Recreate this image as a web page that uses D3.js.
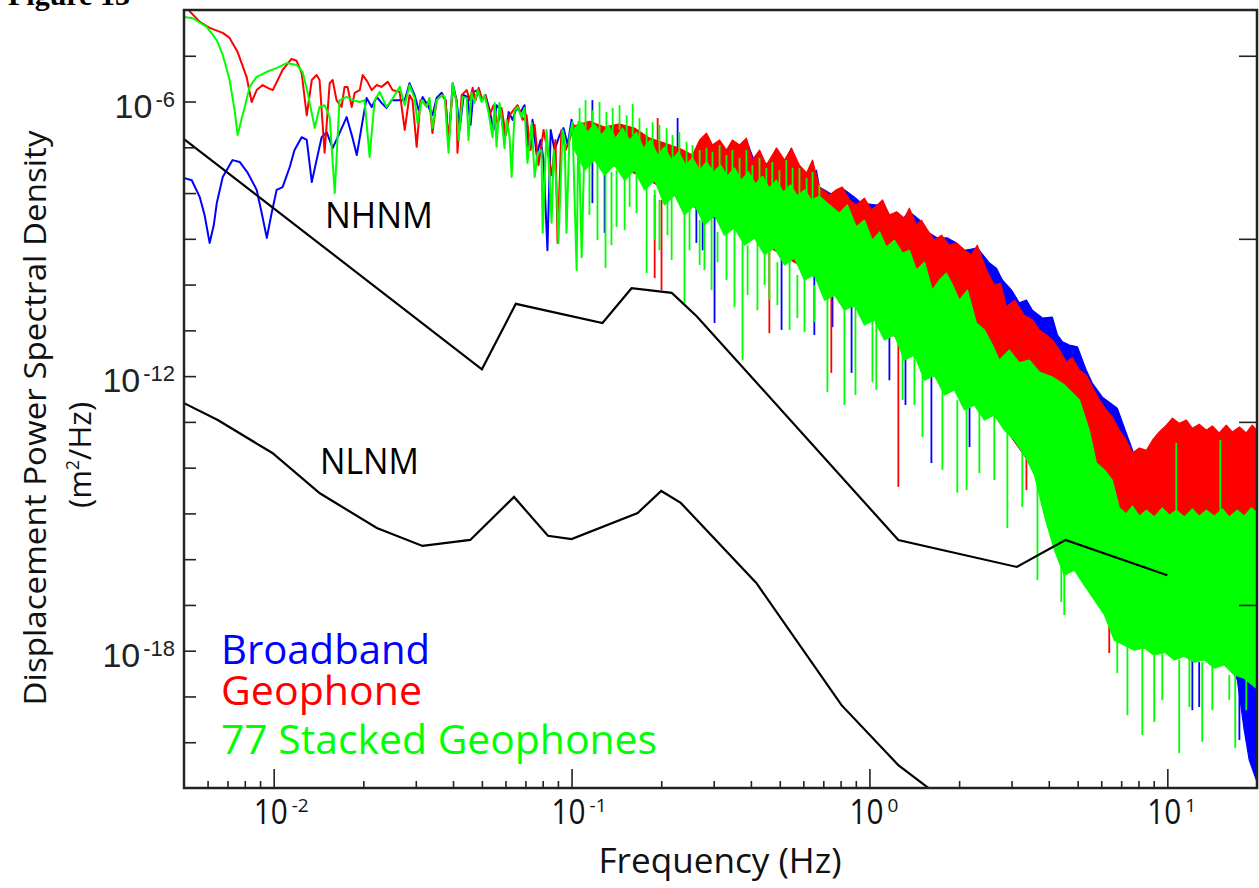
<!DOCTYPE html>
<html>
<head>
<meta charset="utf-8">
<script src="https://cdn.jsdelivr.net/npm/d3@7"></script>
<style>
  body { margin: 0; background: #fff; }
  svg { display: block; }
</style>
</head>
<body>
<div id="chart"></div>
<script>
// ===========================
// Displacement PSD, log-log
// all spectrum points are [log10 Hz, log10 m^2/Hz]
// ===========================

// low frequency part, single traces
const broadbandLine = [[-2.302,-7.67],[-2.275,-7.72],[-2.248,-8.09],[-2.232,-8.48],[-2.215,-9.09],[-2.201,-8.70],[-2.191,-8.22],[-2.171,-7.65],[-2.138,-7.28],[-2.114,-7.32],[-2.087,-7.56],[-2.057,-7.93],[-2.040,-8.44],[-2.023,-8.98],[-2.007,-8.44],[-1.990,-7.93],[-1.970,-7.87],[-1.946,-7.43],[-1.930,-7.06],[-1.906,-6.78],[-1.889,-6.84],[-1.872,-7.76],[-1.856,-7.28],[-1.839,-6.78],[-1.822,-6.67],[-1.802,-7.02],[-1.779,-6.69],[-1.755,-6.34],[-1.735,-6.80],[-1.721,-7.17],[-1.705,-6.56],[-1.688,-5.92],[-1.671,-6.12],[-1.654,-5.90],[-1.638,-6.03],[-1.621,-6.14],[-1.604,-5.97],
  [-1.577,-5.97],[-1.560,-5.97],[-1.544,-5.60],[-1.527,-5.86],[-1.513,-6.19],[-1.500,-5.90],[-1.483,-6.08],[-1.467,-6.30],[-1.453,-5.92],[-1.436,-5.81],[-1.423,-5.97],[-1.413,-6.95],[-1.399,-5.60],[-1.386,-5.97],[-1.376,-6.62],[-1.362,-5.86],[-1.349,-5.90],[-1.339,-6.51],[-1.329,-5.79],[-1.315,-5.75],[-1.302,-5.97],[-1.289,-5.86],[-1.275,-6.19],[-1.262,-6.62],[-1.252,-6.08],[-1.238,-6.19],[-1.225,-6.84],[-1.211,-6.23],[-1.198,-6.40],[-1.185,-6.14],[-1.171,-6.23],[-1.158,-6.08],[-1.144,-7.06],[-1.131,-6.40],[-1.117,-7.17],[-1.104,-6.84],[-1.094,-7.28],[-1.081,-9.25],[-1.070,-6.62],[-1.057,-7.06],[-1.040,-6.73],[-1.027,-6.58],[-1.013,-6.95],[-1.000,-6.40],[-0.983,-6.84],[-0.970,-6.51],[-0.956,-6.73]];

const geophoneLine = [[-2.302,-3.89],[-2.248,-4.26],[-2.215,-4.39],[-2.171,-4.50],[-2.148,-4.61],[-2.121,-4.92],[-2.091,-5.46],[-2.074,-6.01],[-2.057,-5.75],[-2.037,-5.64],[-2.020,-5.70],[-2.003,-5.75],[-1.970,-5.31],[-1.940,-5.07],[-1.923,-5.11],[-1.906,-5.38],[-1.889,-6.30],[-1.872,-5.53],[-1.856,-5.42],[-1.846,-5.53],[-1.829,-7.12],[-1.812,-5.60],[-1.802,-5.53],[-1.789,-5.97],[-1.772,-6.12],[-1.762,-5.68],[-1.752,-5.68],[-1.738,-6.12],[-1.728,-5.81],[-1.711,-5.75],[-1.701,-5.42],[-1.685,-5.57],[-1.671,-5.75],[-1.654,-5.64],[-1.638,-5.68],[-1.617,-5.57],[-1.601,-5.75],
  [-1.577,-5.79],[-1.560,-6.62],[-1.544,-5.86],[-1.534,-5.97],[-1.520,-6.99],[-1.507,-5.97],[-1.487,-6.08],[-1.477,-5.97],[-1.467,-6.69],[-1.453,-5.97],[-1.436,-5.86],[-1.423,-5.97],[-1.413,-6.84],[-1.399,-5.75],[-1.386,-5.97],[-1.383,-7.12],[-1.369,-5.86],[-1.352,-5.75],[-1.342,-5.97],[-1.332,-5.70],[-1.322,-5.97],[-1.312,-5.70],[-1.299,-5.97],[-1.289,-5.86],[-1.275,-6.30],[-1.262,-6.08],[-1.248,-6.51],[-1.235,-6.14],[-1.221,-6.73],[-1.208,-6.30],[-1.195,-6.19],[-1.181,-6.08],[-1.164,-6.40],[-1.151,-6.30],[-1.138,-7.06],[-1.124,-6.51],[-1.111,-7.39],[-1.094,-6.62],[-1.081,-7.06],[-1.067,-7.61],[-1.054,-6.84],[-1.047,-9.09],[-1.034,-6.62],[-1.020,-7.06],[-1.007,-6.84],[-0.993,-6.51],[-0.980,-7.06],[-0.966,-6.62],[-0.956,-6.73]];

const stackedLine = [[-2.302,-4.15],[-2.272,-4.18],[-2.225,-4.37],[-2.191,-4.66],[-2.171,-4.98],[-2.148,-5.53],[-2.131,-6.19],[-2.121,-6.73],[-2.107,-6.36],[-2.097,-6.12],[-2.081,-5.68],[-2.057,-5.46],[-2.023,-5.35],[-1.990,-5.27],[-1.956,-5.16],[-1.923,-5.20],[-1.903,-5.35],[-1.886,-5.81],[-1.862,-6.58],[-1.846,-6.12],[-1.829,-6.08],[-1.812,-6.34],[-1.795,-8.00],[-1.779,-5.97],[-1.755,-5.90],[-1.735,-5.97],[-1.711,-6.01],[-1.695,-5.97],[-1.678,-7.21],[-1.661,-5.97],[-1.644,-5.79],[-1.621,-6.12],[-1.604,-5.97],
  [-1.577,-5.68],[-1.560,-6.08],[-1.544,-5.64],[-1.527,-5.92],[-1.517,-6.47],[-1.503,-5.97],[-1.487,-6.12],[-1.477,-5.92],[-1.467,-6.58],[-1.453,-5.97],[-1.436,-5.86],[-1.426,-5.90],[-1.413,-7.12],[-1.399,-5.60],[-1.386,-6.03],[-1.379,-6.84],[-1.366,-5.90],[-1.352,-5.92],[-1.346,-6.84],[-1.336,-5.81],[-1.326,-6.03],[-1.315,-5.75],[-1.302,-6.01],[-1.292,-5.86],[-1.279,-6.23],[-1.265,-6.78],[-1.258,-6.03],[-1.252,-6.99],[-1.242,-6.03],[-1.235,-6.34],[-1.225,-7.02],[-1.218,-6.40],[-1.208,-6.78],[-1.201,-7.65],[-1.191,-6.19],[-1.181,-6.12],[-1.168,-6.34],[-1.158,-6.14],[-1.148,-7.34],[-1.134,-6.47],[-1.124,-7.65],[-1.114,-7.12],[-1.101,-7.06],[-1.097,-8.87],[-1.084,-6.62],[-1.077,-7.21],[-1.067,-8.65],[-1.060,-7.06],[-1.050,-7.87],[-1.044,-9.09],[-1.030,-6.62],[-1.023,-6.84],[-1.017,-8.87],[-1.007,-6.78],[-0.997,-6.45],[-0.983,-9.68],[-0.977,-6.45],[-0.966,-9.40],[-0.956,-6.78]];

// dense part above ~0.1 Hz: upper and lower edge of the solid core of each trace
const broadbandUpper = [[-0.990,-6.56],[-0.940,-6.45],[-0.889,-6.58],[-0.839,-6.51],[-0.789,-6.60],[-0.738,-6.82],[-0.688,-6.93],[-0.638,-7.04],[-0.594,-7.19],[-0.570,-6.95],[-0.547,-6.84],[-0.527,-7.02],[-0.503,-6.91],[-0.480,-7.10],[-0.460,-6.91],[-0.436,-7.02],[-0.413,-6.84],[-0.379,-7.43],[-0.336,-7.34],[-0.312,-7.02],[-0.285,-7.32],[-0.262,-7.02],[-0.235,-7.50],[-0.211,-7.61],[-0.178,-7.50],[-0.168,-7.87],[-0.124,-8.04],[-0.084,-7.93],[-0.050,-8.09],[-0.027,-8.22],[0.017,-8.26],[0.044,-8.26],[0.067,-8.48],[0.101,-8.63],[0.134,-8.41],[0.168,-8.59],[0.195,-8.85],[0.228,-8.98],[0.262,-8.98],[0.292,-9.09],[0.319,-9.25],[0.362,-9.20],[0.403,-9.53],[0.426,-9.64],[0.446,-9.90],[0.477,-10.12],[0.503,-10.40],[0.527,-10.34],[0.547,-10.56],[0.581,-10.73],[0.614,-10.71],[0.631,-11.10],[0.648,-11.25],[0.671,-11.32],[0.698,-11.36],[0.728,-11.87],[0.748,-12.15],[0.782,-12.46],[0.805,-12.57],[0.832,-12.70],[0.862,-13.24],[0.889,-13.72],[0.923,-13.94],[1.107,-13.88],[1.299,-13.94]];
const broadbandLower = [[-0.990,-6.95],[-0.738,-7.72],[-0.570,-8.37],[-0.403,-8.92],[-0.235,-9.57],[-0.067,-10.34],[0.101,-11.21],[0.268,-12.09],[0.436,-12.96],[0.604,-14.49],[0.772,-16.02],[0.940,-17.77],[1.107,-17.99],[1.208,-18.31],[1.235,-18.64],[1.258,-19.73],[1.275,-20.39],[1.299,-20.83]];

const geophoneUpper = [[-0.990,-6.53],[-0.940,-6.43],[-0.889,-6.56],[-0.839,-6.49],[-0.789,-6.58],[-0.738,-6.80],[-0.688,-6.91],[-0.638,-7.02],[-0.594,-7.17],[-0.570,-6.84],[-0.547,-6.69],[-0.527,-6.95],[-0.503,-6.84],[-0.480,-7.06],[-0.460,-6.84],[-0.436,-6.95],[-0.413,-6.80],[-0.393,-7.28],[-0.369,-7.06],[-0.346,-7.39],[-0.336,-7.28],[-0.312,-7.02],[-0.285,-7.28],[-0.262,-7.02],[-0.235,-7.39],[-0.211,-7.56],[-0.191,-7.28],[-0.168,-7.87],[-0.134,-8.04],[-0.111,-7.93],[-0.091,-7.87],[-0.067,-8.15],[-0.044,-8.26],[-0.017,-8.11],[0.007,-8.37],[0.027,-8.26],[0.044,-8.15],[0.067,-8.48],[0.091,-8.41],[0.117,-8.55],[0.134,-8.33],[0.158,-8.70],[0.174,-8.59],[0.195,-8.81],[0.218,-9.03],[0.242,-8.92],[0.268,-9.14],[0.292,-9.09],[0.319,-9.25],[0.342,-9.35],[0.362,-9.14],[0.393,-9.68],[0.419,-10.01],[0.440,-9.97],[0.460,-10.49],[0.487,-10.34],[0.520,-10.67],[0.547,-10.77],[0.570,-10.99],[0.594,-11.10],[0.614,-11.21],[0.638,-11.43],[0.661,-11.69],[0.681,-11.60],[0.705,-11.87],[0.728,-11.98],[0.748,-12.24],[0.772,-12.52],[0.795,-12.74],[0.815,-12.89],[0.839,-13.18],[0.862,-13.40],[0.883,-13.68],[0.906,-13.57],[0.930,-13.62],[0.950,-13.40],[0.973,-13.22],[0.997,-13.07],[1.017,-12.92],[1.040,-13.03],[1.064,-12.96],[1.084,-13.14],[1.107,-13.05],[1.131,-13.18],[1.151,-13.09],[1.174,-13.24],[1.198,-13.07],[1.218,-13.22],[1.242,-13.11],[1.265,-13.24],[1.285,-13.07],[1.299,-13.18]];
const geophoneLower = [[-0.990,-6.95],[-0.738,-7.72],[-0.570,-8.37],[-0.403,-8.92],[-0.235,-9.57],[-0.067,-10.34],[0.101,-11.21],[0.268,-12.09],[0.436,-12.96],[0.604,-14.49],[0.772,-15.15],[1.299,-15.15]];

const stackedUpper = [[-0.990,-6.58],[-0.966,-6.45],[-0.946,-6.67],[-0.923,-6.49],[-0.899,-6.73],[-0.876,-6.53],[-0.852,-6.80],[-0.829,-6.58],[-0.805,-6.84],[-0.782,-6.67],[-0.758,-7.02],[-0.735,-6.84],[-0.711,-7.17],[-0.688,-6.99],[-0.664,-7.28],[-0.641,-7.10],[-0.617,-7.39],[-0.594,-7.23],[-0.570,-7.50],[-0.547,-7.32],[-0.523,-7.54],[-0.500,-7.39],[-0.477,-7.63],[-0.453,-7.45],[-0.430,-7.72],[-0.406,-7.54],[-0.383,-7.80],[-0.359,-7.63],[-0.336,-7.89],[-0.312,-7.72],[-0.289,-7.98],[-0.265,-7.82],[-0.242,-8.06],[-0.218,-7.93],[-0.195,-8.15],[-0.168,-8.07],[-0.134,-8.26],[-0.101,-8.44],[-0.074,-8.26],[-0.044,-8.74],[-0.017,-8.59],[0.010,-9.03],[0.034,-8.85],[0.057,-9.18],[0.084,-9.03],[0.111,-9.31],[0.134,-9.25],[0.158,-9.68],[0.185,-9.51],[0.211,-10.12],[0.235,-9.90],[0.258,-9.75],[0.279,-10.01],[0.302,-10.34],[0.329,-10.12],[0.359,-10.84],[0.386,-10.99],[0.413,-11.32],[0.436,-11.65],[0.470,-11.43],[0.503,-11.71],[0.537,-11.65],[0.570,-11.91],[0.614,-12.02],[0.654,-12.19],[0.705,-12.52],[0.738,-13.18],[0.762,-13.90],[0.789,-14.05],[0.815,-14.27],[0.839,-14.88],[0.862,-15.01],[0.883,-14.84],[0.906,-15.06],[0.930,-14.93],[0.956,-15.08],[0.983,-14.88],[1.007,-15.04],[1.030,-14.93],[1.057,-15.08],[1.084,-14.90],[1.107,-15.06],[1.131,-14.93],[1.158,-15.06],[1.185,-14.90],[1.208,-15.08],[1.235,-14.93],[1.258,-15.06],[1.282,-14.88],[1.299,-14.97]];
const stackedLower = [[-0.990,-7.06],[-0.956,-7.50],[-0.923,-7.28],[-0.889,-7.61],[-0.856,-7.39],[-0.822,-7.72],[-0.789,-7.50],[-0.755,-7.93],[-0.721,-7.72],[-0.688,-8.26],[-0.654,-8.04],[-0.621,-8.48],[-0.587,-8.26],[-0.554,-8.70],[-0.520,-8.48],[-0.487,-8.92],[-0.453,-8.76],[-0.419,-9.14],[-0.386,-8.98],[-0.352,-9.35],[-0.319,-9.20],[-0.285,-9.57],[-0.252,-9.42],[-0.218,-9.90],[-0.185,-9.79],[-0.151,-10.34],[-0.117,-10.23],[-0.084,-10.56],[-0.050,-10.45],[-0.017,-10.88],[0.017,-10.77],[0.050,-11.21],[0.084,-11.10],[0.117,-11.65],[0.151,-11.54],[0.185,-12.09],[0.218,-11.98],[0.252,-12.41],[0.285,-12.30],[0.319,-12.74],[0.352,-12.63],[0.386,-12.96],[0.419,-12.85],[0.453,-13.18],[0.487,-13.40],[0.520,-13.72],[0.554,-14.16],[0.587,-15.04],[0.621,-15.80],[0.654,-16.35],[0.688,-16.24],[0.721,-16.57],[0.755,-16.89],[0.789,-17.22],[0.822,-17.77],[0.856,-17.88],[0.889,-17.99],[0.923,-17.94],[0.956,-18.10],[0.990,-18.03],[1.023,-18.20],[1.057,-18.12],[1.091,-18.25],[1.124,-18.20],[1.158,-18.38],[1.191,-18.31],[1.225,-18.53],[1.258,-18.60],[1.299,-18.82]];

// thin spikes sticking out of the core: [log10 Hz, log10 top, log10 bottom]
const broadbandSpikes = [[-0.930,-5.97,-6.45],[-0.644,-6.36,-7.02],[-0.930,-7.06,-8.22],[-0.889,-7.28,-8.87],[-0.581,-8.26,-9.09],[-0.560,-8.37,-9.25],[-0.520,-8.48,-10.84],[-0.295,-9.35,-10.99],[-0.185,-9.79,-11.10],[-0.124,-10.12,-10.93],[-0.060,-10.34,-11.93],[0.067,-11.10,-12.09],[0.121,-11.43,-12.63],[0.208,-11.87,-13.90],[0.336,-12.63,-13.55],[1.084,-18.16,-19.30],[1.107,-18.25,-19.23],[1.242,-18.55,-19.95]];
const geophoneSpikes = [[-0.711,-6.36,-6.84],[-0.721,-8.04,-9.86],[-0.698,-8.15,-10.12],[-0.336,-9.25,-11.06],[-0.128,-10.12,-11.93],[0.097,-11.21,-14.42],[0.527,-13.62,-14.49],[0.805,-17.22,-18.05]];
const stackedSpikes = [
  // upward
  [-0.973,-6.14,-6.62],[-0.953,-5.97,-6.62],[-0.930,-6.19,-6.58],[-0.906,-6.01,-6.73],[-0.883,-6.23,-6.62],[-0.862,-6.14,-6.80],[-0.839,-6.08,-6.62],[-0.815,-6.30,-6.84],[-0.795,-6.05,-6.73],[-0.772,-6.36,-6.95],[-0.748,-6.58,-7.02],[-0.728,-6.45,-6.95],[-0.705,-6.51,-7.17],[-0.681,-6.58,-7.10],[-0.661,-6.73,-7.32],[-0.638,-6.67,-7.23],[-0.614,-6.88,-7.45],[-0.594,-6.95,-7.32],[-0.570,-7.06,-7.54],[-0.547,-7.02,-7.45],[-0.527,-7.10,-7.61],[-0.503,-6.95,-7.50],[-0.480,-7.17,-7.67],[-0.460,-7.06,-7.54],[-0.436,-7.23,-7.76],[-0.413,-7.06,-7.67],[-0.393,-7.39,-7.85],[-0.369,-7.23,-7.80],[-0.346,-7.45,-7.93],[-0.326,-7.32,-7.85],[-0.302,-7.50,-8.02],[-0.279,-7.28,-7.93],[-0.258,-7.45,-8.11],[-0.235,-7.45,-8.07],[-0.211,-7.67,-8.20],[-0.191,-7.54,-8.15],[-0.168,-7.82,-8.15],[1.030,-13.46,-14.99],[1.178,-13.40,-15.15],
  // downward
  [-0.940,-7.39,-8.48],[-0.913,-7.28,-9.03],[-0.886,-7.39,-9.64],[-0.866,-7.54,-9.14],[-0.849,-7.50,-8.74],[-0.822,-7.61,-8.81],[-0.805,-7.50,-8.30],[-0.782,-7.61,-8.44],[-0.748,-7.82,-9.75],[-0.721,-7.93,-9.03],[-0.705,-8.15,-9.25],[-0.678,-8.15,-8.92],[-0.664,-8.04,-9.46],[-0.621,-8.37,-10.40],[-0.604,-8.37,-9.25],[-0.570,-8.59,-9.57],[-0.554,-8.70,-9.68],[-0.530,-8.48,-10.12],[-0.510,-8.85,-9.51],[-0.480,-8.81,-9.90],[-0.453,-8.76,-10.49],[-0.426,-9.03,-11.65],[-0.409,-9.14,-10.23],[-0.376,-9.03,-10.56],[-0.352,-9.35,-10.01],[-0.336,-9.25,-10.34],[-0.309,-9.51,-10.45],[-0.268,-9.46,-10.99],[-0.242,-9.79,-10.73],[-0.218,-9.79,-11.04],[-0.185,-10.01,-10.82],[-0.141,-10.23,-12.35],[-0.084,-10.45,-12.63],[-0.047,-10.45,-12.41],[0.010,-10.77,-12.13],[0.023,-10.77,-12.30],[0.111,-11.43,-12.52],[0.151,-11.54,-12.63],[0.178,-11.98,-13.33],[0.245,-12.30,-14.05],[0.295,-12.52,-14.55],[0.326,-12.63,-14.49],[0.369,-12.74,-14.12],[0.419,-12.85,-14.27],[0.463,-13.18,-15.32],[0.513,-13.62,-14.86],[0.564,-14.05,-16.46],[0.644,-16.02,-16.94],[0.654,-16.24,-17.22],[0.832,-17.77,-18.49],[0.866,-17.88,-19.41],[0.916,-17.94,-19.84],[0.956,-18.10,-19.56],[0.983,-18.03,-19.08],[1.040,-18.20,-20.24],[1.074,-18.12,-19.23],[1.117,-18.25,-19.99],[1.151,-18.20,-19.30],[1.208,-18.53,-19.08],[1.228,-18.55,-20.13],[1.265,-18.60,-19.30]];

// Peterson noise models: breakpoint frequency (Hz), log10 PSD
const nhnmFreq = [0.005, 0.05, 0.065, 0.127, 0.159, 0.217, 0.263, 1.25, 3.125, 4.55, 10];
const nhnmPsd  = [-6.82, -11.85, -10.42, -10.84, -10.08, -10.18, -10.69, -15.58, -16.17, -15.58, -16.35];
const nlnmFreq = [0.005, 0.00649, 0.0099, 0.01429, 0.0222, 0.0316, 0.0457, 0.0641, 0.0833, 0.1, 0.1667, 0.2, 0.2326, 0.417, 0.806, 1.25, 2.5];
const nlnmPsd  = [-12.59, -12.96, -13.68, -14.56, -15.32, -15.71, -15.58, -14.64, -15.49, -15.56, -14.99, -14.51, -14.77, -16.52, -19.19, -20.50, -21.99];

const xMajor = [0.01, 0.1, 1, 10];
const xMajorExp = ['-2', '-1', '0', '1'];
const yLabelled = [1e-6, 1e-12, 1e-18];
const yLabelExp = ['-6', '-12', '-18'];
const yDecades = [1e-5,1e-6,1e-7,1e-8,1e-9,1e-10,1e-11,1e-12,1e-13,1e-14,1e-15,1e-16,1e-17,1e-18,1e-19,1e-20];
const yRightTicks = [1e-5, 1e-9, 1e-13, 1e-17];

const series = [
    { name: 'Broadband', color: '#0000ff', line: broadbandLine, upper: broadbandUpper, lower: broadbandLower, spikes: broadbandSpikes },
    { name: 'Geophone', color: '#ff0000', line: geophoneLine, upper: geophoneUpper, lower: geophoneLower, spikes: geophoneSpikes },
    { name: '77 Stacked Geophones', color: '#00ff00', line: stackedLine, upper: stackedUpper, lower: stackedLower, spikes: stackedSpikes }
];

const W = 1259, H = 888;
const plot = { left: 184, right: 1257, top: 10, bottom: 788 };
const sans = '"Open Sans", "Noto Sans", sans-serif';

const x = d3.scaleLog().domain([0.005, 20]).range([plot.left, plot.right]);
const y = d3.scaleLog().domain([1e-21, 1e-4]).range([plot.bottom, plot.top]);
const px = d => x(Math.pow(10, d[0]));
const py = d => y(Math.pow(10, d[1]));

const svg = d3.select('#chart').append('svg')
    .attr('width', W)
    .attr('height', H);

svg.append('defs').append('clipPath')
    .attr('id', 'plot-clip')
    .append('rect')
    .attr('x', plot.left)
    .attr('y', plot.top)
    .attr('width', plot.right - plot.left)
    .attr('height', plot.bottom - plot.top);

const g = svg.append('g').attr('clip-path', 'url(#plot-clip)');
const line = d3.line().x(px).y(py);

series.forEach(s => {
    const sg = g.append('g').attr('class', 'series');
    // dense core: upper edge left->right, lower edge back
    sg.append('path')
        .attr('d', line(s.upper.concat(s.lower.slice().reverse())) + 'Z')
        .attr('fill', s.color)
        .attr('stroke', s.color)
        .attr('stroke-width', 1.2)
        .attr('stroke-linejoin', 'round');

    sg.selectAll('.spike')
        .data(s.spikes)
        .join('line')
        .attr('class', 'spike')
        .attr('x1', d => x(Math.pow(10, d[0])))
        .attr('x2', d => x(Math.pow(10, d[0])))
        .attr('y1', d => y(Math.pow(10, d[1])))
        .attr('y2', d => y(Math.pow(10, d[2])))
        .attr('stroke', s.color)
        .attr('stroke-width', 1.8);

    sg.append('path')
        .attr('d', line(s.line))
        .attr('fill', 'none')
        .attr('stroke', s.color)
        .attr('stroke-width', 2)
        .attr('stroke-linejoin', 'round');
});

// noise models
const modelLine = d3.line()
    .x(d => x(d[0]))
    .y(d => y(Math.pow(10, d[1])));

[[nhnmFreq, nhnmPsd], [nlnmFreq, nlnmPsd]].forEach(([f, p]) => {
    g.append('path')
        .attr('d', modelLine(f.map((v, i) => [v, p[i]])))
        .attr('fill', 'none')
        .attr('stroke', '#000')
        .attr('stroke-width', 2.2);
});

svg.append('text').attr('x', 325).attr('y', 228)
    .style('font-family', sans).style('font-size', '36px').attr('fill', '#000')
    .attr('textLength', 108).attr('lengthAdjust', 'spacingAndGlyphs')
    .text('NHNM');
svg.append('text').attr('x', 320).attr('y', 474)
    .style('font-family', sans).style('font-size', '36px').attr('fill', '#000')
    .attr('textLength', 99).attr('lengthAdjust', 'spacingAndGlyphs')
    .text('NLNM');

// axes: ticks point inward, labels drawn separately
const axisColor = '#222';
const styleAxis = sel => {
    sel.select('.domain').remove();
    sel.selectAll('.tick line').attr('stroke', axisColor).attr('stroke-width', 1.6);
};

const minorTicks = [];
[0.001, 0.01, 0.1, 1, 10].forEach(dec => {
    for (let k = 2; k <= 9; k++) {
        const v = k * dec;
        if (v > 0.005 && v < 20) minorTicks.push(v);
    }
});

svg.append('g')
    .attr('transform', `translate(0,${plot.bottom})`)
    .call(d3.axisBottom(x).tickValues(minorTicks).tickSize(-7).tickFormat(''))
    .call(styleAxis);
svg.append('g')
    .attr('transform', `translate(0,${plot.bottom})`)
    .call(d3.axisBottom(x).tickValues(xMajor).tickSize(-19).tickFormat(''))
    .call(styleAxis);
svg.append('g')
    .attr('transform', `translate(${plot.left},0)`)
    .call(d3.axisLeft(y).tickValues(yDecades).tickSize(-12).tickFormat(''))
    .call(styleAxis);
svg.append('g')
    .attr('transform', `translate(${plot.right},0)`)
    .call(d3.axisRight(y).tickValues(yRightTicks).tickSize(-18).tickFormat(''))
    .call(styleAxis);

svg.append('rect')
    .attr('x', plot.left)
    .attr('y', plot.top)
    .attr('width', plot.right - plot.left)
    .attr('height', plot.bottom - plot.top)
    .attr('fill', 'none')
    .attr('stroke', axisColor)
    .attr('stroke-width', 2.5);

// tick labels
xMajor.forEach((v, i) => {
    const tx = x(v);
    svg.append('text')
        .attr('x', tx + 14).attr('y', 824)
        .attr('text-anchor', 'end')
        .style('font-family', sans).style('font-size', '35px')
        .attr('textLength', 34).attr('lengthAdjust', 'spacingAndGlyphs')
        .attr('fill', '#111')
        .text('10');
    svg.append('text')
        .attr('x', tx + 18).attr('y', 812)
        .style('font-family', sans).style('font-size', '19px')
        .attr('fill', '#111')
        .text(xMajorExp[i]);
});

yLabelled.forEach((v, i) => {
    const ty = y(v);
    const t = svg.append('text')
        .attr('x', 175).attr('y', ty + 16)
        .attr('text-anchor', 'end')
        .style('font-family', '"Liberation Sans", Arial, sans-serif')
        .attr('fill', '#222');
    t.append('tspan').style('font-size', '34px').text('10');
    t.append('tspan').style('font-size', '22px').attr('dx', 3).attr('dy', -11).text(yLabelExp[i]);
});

// axis titles
svg.append('text')
    .attr('x', 720).attr('y', 873)
    .attr('text-anchor', 'middle')
    .style('font-family', sans).style('font-size', '35px')
    .attr('textLength', 243).attr('lengthAdjust', 'spacingAndGlyphs')
    .attr('fill', '#111')
    .text('Frequency (Hz)');

svg.append('text')
    .attr('transform', 'translate(46,418) rotate(-90)')
    .attr('text-anchor', 'middle')
    .style('font-family', sans).style('font-size', '31px')
    .attr('textLength', 575).attr('lengthAdjust', 'spacingAndGlyphs')
    .attr('fill', '#111')
    .text('Displacement Power Spectral Density');

const unit = svg.append('text')
    .attr('transform', 'translate(91,455) rotate(-90)')
    .attr('text-anchor', 'middle')
    .style('font-family', sans).style('font-size', '31px')
    .attr('fill', '#111');
unit.append('tspan').text('(m');
unit.append('tspan').style('font-size', '18px').attr('dy', -12).text('2');
unit.append('tspan').attr('dy', 12).text('/Hz)');

// legend
const legendRows = [
    { baseline: 664, width: 209 },
    { baseline: 705, width: 201 },
    { baseline: 754, width: 436 }
];
series.forEach((s, i) => {
    svg.append('text')
        .attr('x', 221).attr('y', legendRows[i].baseline)
        .style('font-family', sans).style('font-size', '40px')
        .attr('textLength', legendRows[i].width).attr('lengthAdjust', 'spacingAndGlyphs')
        .attr('fill', s.color)
        .text(s.name);
});

// page label, mostly cut off at the top edge
svg.append('text')
    .attr('x', 8).attr('y', 5)
    .style('font-family', '"Liberation Serif", serif')
    .style('font-size', '30px').style('font-weight', 'bold')
    .attr('fill', '#000')
    .text('Figure 13');
</script>
</body>
</html>
